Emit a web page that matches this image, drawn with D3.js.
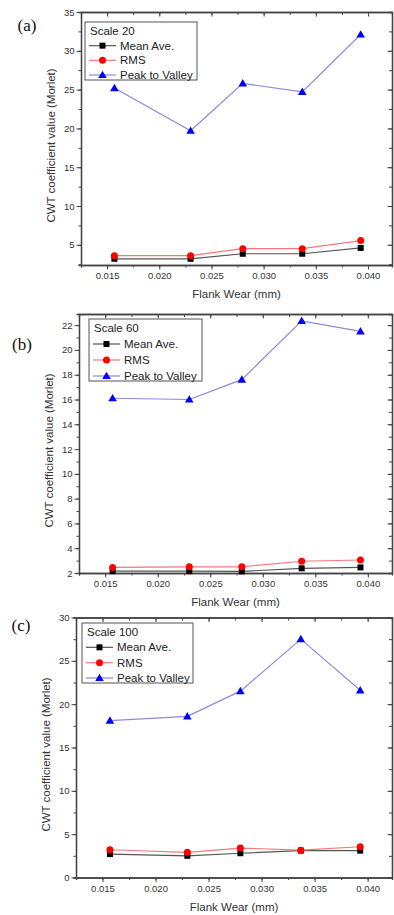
<!DOCTYPE html>
<html>
  <head>
    <meta charset="UTF-8" />
    <title>CWT coefficient vs flank wear</title>
    <style>
      body { margin: 0; background: #fff; }
      text { font-family: "Liberation Sans", Arial, sans-serif; }
    </style>
  </head>
  <body>
    <svg width="394" height="915"></svg>

    <script src="https://d3js.org/d3.v7.min.js"></script>
    <script>
      // data
      const flankWear = [0.0157, 0.023, 0.028, 0.0337, 0.0393];
      const seriesNames = ["Mean Ave.", "RMS", "Peak to Valley"];
      const panelLabels = ["(a)", "(b)", "(c)"];
      const scaleNames = ["Scale 20", "Scale 60", "Scale 100"];

      const s20Mean = [3.2, 3.2, 3.85, 3.85, 4.6];
      const s20Rms = [3.6, 3.6, 4.5, 4.5, 5.55];
      const s20Ptv = [25.2, 19.7, 25.8, 24.7, 32.1];

      const s60Mean = [2.15, 2.15, 2.13, 2.38, 2.45];
      const s60Rms = [2.45, 2.5, 2.5, 2.95, 3.05];
      const s60Ptv = [16.1, 16.0, 17.6, 22.35, 21.5];

      const s100Mean = [2.7, 2.5, 2.8, 3.1, 3.1];
      const s100Rms = [3.2, 2.9, 3.4, 3.15, 3.55];
      const s100Ptv = [18.1, 18.6, 21.5, 27.5, 21.6];

      const yDomains = [[2.4, 35], [2, 22.9], [0, 30]];
      const yMajorSteps = [5, 2, 5];

      // colours: marker / line
      const markerColors = ["#000", "#f00", "#00f"];
      const lineColors = ["#555", "#f07a7a", "#8a8ad8"];

      // layout per panel
      const layout = [
        { left: 81, right: 392, top: 12, bottom: 265, lab: [27, 25], leg: [85, 22, 112, 58] },
        { left: 79, right: 392, top: 314, bottom: 573, lab: [22, 344], leg: [89, 319, 113, 62] },
        { left: 76, right: 392, top: 617.5, bottom: 877.5, lab: [21, 625], leg: [82, 623, 111, 60] },
      ];

      const panels = [
        [s20Mean, s20Rms, s20Ptv],
        [s60Mean, s60Rms, s60Ptv],
        [s100Mean, s100Rms, s100Ptv],
      ];

      const svg = d3.select("svg");
      svg.append("rect").attr("width", 394).attr("height", 915).attr("fill", "#fff");

      const xDomain = [0.0125, 0.0423];
      const xMajor = d3.range(0.015, 0.0401, 0.005);
      const xMinor = d3.range(0.0125, 0.0424, 0.0025);

      function marker(g, type, cx, cy) {
        if (type === 0) {
          g.append("rect").attr("x", cx - 3).attr("y", cy - 3)
            .attr("width", 6).attr("height", 6).attr("fill", markerColors[0]);
        } else if (type === 1) {
          g.append("circle").attr("cx", cx).attr("cy", cy).attr("r", 3.5)
            .attr("fill", markerColors[1]);
        } else {
          g.append("path")
            .attr("d", d3.symbol(d3.symbolTriangle, 32)())
            .attr("transform", `translate(${cx},${cy + 0.6})`)
            .attr("fill", markerColors[2]);
        }
      }

      panels.forEach((series, p) => {
        const L = layout[p];
        const g = svg.append("g");

        const x = d3.scaleLinear().domain(xDomain).range([L.left, L.right]);
        const y = d3.scaleLinear().domain(yDomains[p]).range([L.bottom, L.top]);

        const step = yMajorSteps[p];
        const yMajor = d3.range(Math.ceil(yDomains[p][0] / step) * step, yDomains[p][1] + 1e-6, step);
        const yMinor = d3.range(Math.ceil(yDomains[p][0] / (step / 2)) * (step / 2), yDomains[p][1] + 1e-6, step / 2);

        // minor ticks
        g.append("g").attr("transform", `translate(0,${L.bottom})`)
          .call(d3.axisBottom(x).tickValues(xMinor).tickSize(2.5).tickFormat(""));
        g.append("g").attr("transform", `translate(${L.left},0)`)
          .call(d3.axisLeft(y).tickValues(yMinor).tickSize(2.5).tickFormat(""));
        g.append("g").attr("transform", `translate(0,${L.top})`)
          .call(d3.axisTop(x).tickValues(xMinor).tickSize(-3).tickFormat(""));
        g.append("g").attr("transform", `translate(${L.right},0)`)
          .call(d3.axisRight(y).tickValues(yMinor).tickSize(-3).tickFormat(""));

        // major axes
        g.append("g").attr("class", "xa").attr("transform", `translate(0,${L.bottom})`)
          .call(d3.axisBottom(x).tickValues(xMajor).tickSize(4.5).tickSizeOuter(0)
            .tickPadding(3).tickFormat(d3.format(".3f")));
        g.append("g").attr("class", "ya").attr("transform", `translate(${L.left},0)`)
          .call(d3.axisLeft(y).tickValues(yMajor).tickSize(4.5).tickSizeOuter(0)
            .tickPadding(2).tickFormat(d3.format("d")));
        g.append("g").attr("transform", `translate(0,${L.top})`)
          .call(d3.axisTop(x).tickValues(xMajor).tickSize(-4.5).tickSizeOuter(0).tickFormat(""));
        g.append("g").attr("transform", `translate(${L.right},0)`)
          .call(d3.axisRight(y).tickValues(yMajor).tickSize(-4.5).tickSizeOuter(0).tickFormat(""));

        g.selectAll(".domain").attr("stroke", "#444").attr("stroke-width", 1.3);
        g.selectAll(".tick line").attr("stroke", "#444");
        g.selectAll(".tick text").attr("fill", "#333").attr("font-size", "9.5px")
          .attr("font-family", "Liberation Sans, Arial, sans-serif");

        // series lines
        const line = d3.line().x((d, i) => x(flankWear[i])).y((d) => y(d));
        series.forEach((vals, k) => {
          g.append("path").attr("d", line(vals)).attr("fill", "none")
            .attr("stroke", lineColors[k]).attr("stroke-width", 1.2);
        });
        series.forEach((vals, k) => {
          vals.forEach((v, i) => marker(g, k, x(flankWear[i]), y(v)));
        });

        // axis titles
        g.append("text")
          .attr("x", (L.left + L.right) / 2).attr("y", L.bottom + 33)
          .attr("text-anchor", "middle").attr("font-size", "11.5px").attr("fill", "#333")
          .text("Flank Wear (mm)");
        g.append("text")
          .attr("transform", `translate(${L.left - 26},${(L.top + L.bottom) / 2 + 7}) rotate(-90)`)
          .attr("text-anchor", "middle").attr("font-size", "11.5px").attr("fill", "#333")
          .text("CWT coefficient value (Morlet)");

        // panel label
        g.append("text")
          .attr("x", L.lab[0]).attr("y", L.lab[1]).attr("dy", "0.35em")
          .attr("text-anchor", "middle")
          .style("font-family", "Liberation Serif, Times New Roman, serif")
          .attr("font-size", "17px").attr("fill", "#111")
          .text(panelLabels[p]);

        // legend
        const [lx, ly, lw, lh] = L.leg;
        const lg = g.append("g");
        lg.append("rect").attr("x", lx).attr("y", ly).attr("width", lw).attr("height", lh)
          .attr("fill", "#fff").attr("stroke", "#555").attr("stroke-width", 1);
        const rowH = (lh - 14) / 3;
        lg.append("text").attr("x", lx + 5).attr("y", ly + 9).attr("dy", "0.35em")
          .attr("font-size", "11.5px").attr("fill", "#222").text(scaleNames[p]);
        seriesNames.forEach((name, k) => {
          const ry = ly + 9 + rowH * (k + 1);
          lg.append("line").attr("x1", lx + 4).attr("x2", lx + 31)
            .attr("y1", ry).attr("y2", ry).attr("stroke", lineColors[k]).attr("stroke-width", 1.2);
          marker(lg, k, lx + 17.5, ry);
          lg.append("text").attr("x", lx + 35).attr("y", ry).attr("dy", "0.35em")
            .attr("font-size", "11.5px").attr("fill", "#222").text(name);
        });
      });
    </script>
  </body>
</html>
